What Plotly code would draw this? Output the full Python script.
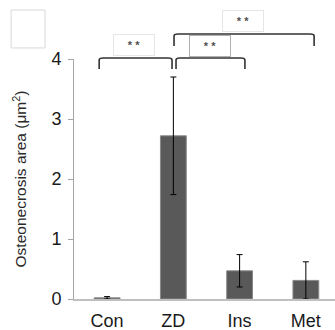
import plotly.graph_objects as go

categories = ["Con", "ZD", "Ins", "Met"]
values = [0.02, 2.72, 0.47, 0.31]
errors = [0.02, 0.98, 0.27, 0.31]
y_ticks = [0, 1, 2, 3, 4]

# significance brackets: (x_start, x_end, y_top_paper, y_bottom_paper)
brackets = [(-0.12, 0.98, 1.004, 0.958), (1.04, 2.08, 1.004, 0.958), (1.01, 3.125, 1.104, 1.054)]
# star labels: (x, y_paper, boxed_border_color)
stars = [(0.41, 1.058, "#e6e6e6"), (1.56, 1.054, "#b0b0b0"), (2.05, 1.158, "#e6e6e6")]

fig = go.Figure()
fig.add_trace(go.Bar(
    x=categories, y=values, width=0.39,
    marker=dict(color="#595959", line=dict(color="#8a8a8a", width=1)),
    error_y=dict(type="data", array=errors, color="#000000", thickness=1, width=3),
))

shapes = []
r = 0.06
for x0, x1, yt, yb in brackets:
    path = (f"M {x0},{yb} L {x0},{yt-0.008} Q {x0},{yt} {x0+r},{yt} "
            f"L {x1-r},{yt} Q {x1},{yt} {x1},{yt-0.008} L {x1},{yb}")
    shapes.append(dict(type="path", path=path, xref="x", yref="paper",
                       line=dict(color="#333333", width=1.6)))
shapes.append(dict(type="rect", xref="paper", yref="paper", x0=-0.241, x1=-0.111,
                   y0=1.046, y1=1.204, line=dict(color="#d8d8d8", width=1)))

annotations = []
for x, y, bc in stars:
    annotations.append(dict(x=x, y=y, xref="x", yref="paper", text="<b>* *</b>", showarrow=False,
                            xanchor="center", yanchor="middle",
                            font=dict(family="Liberation Sans, Arial", size=11, color="#505050"),
                            bordercolor=bc, borderwidth=1, borderpad=3,
                            width=34, height=14, bgcolor="white"))

fig.update_layout(
    width=335, height=330,
    margin=dict(l=74, r=0, t=59, b=31, autoexpand=False),
    plot_bgcolor="white", paper_bgcolor="white",
    showlegend=False,
    shapes=shapes, annotations=annotations,
    font=dict(family="Liberation Sans, Arial", color="#1a1a1a"),
    xaxis=dict(range=[-0.5, 3.44], showline=True, linecolor="#bfbfbf", linewidth=1.5,
               ticks="", tickfont=dict(size=18), ticklabelstandoff=5,
               showgrid=False, automargin=False),
    yaxis=dict(range=[0, 4], tickvals=y_ticks, showline=True, linecolor="#a6a6a6", linewidth=1,
               ticks="outside", ticklen=5, tickcolor="#a6a6a6", tickfont=dict(size=18),
               ticklabelstandoff=3,
               showgrid=False, zeroline=False, automargin=False,
               title=dict(text="Osteonecrosis area (μm<sup>2</sup>)", font=dict(size=15.5, color="#2a2a2a"),
                          standoff=20)),
)

fig.write_html("out.html", config={"displayModeBar": False},
               post_script="document.body.style.margin='0';")
